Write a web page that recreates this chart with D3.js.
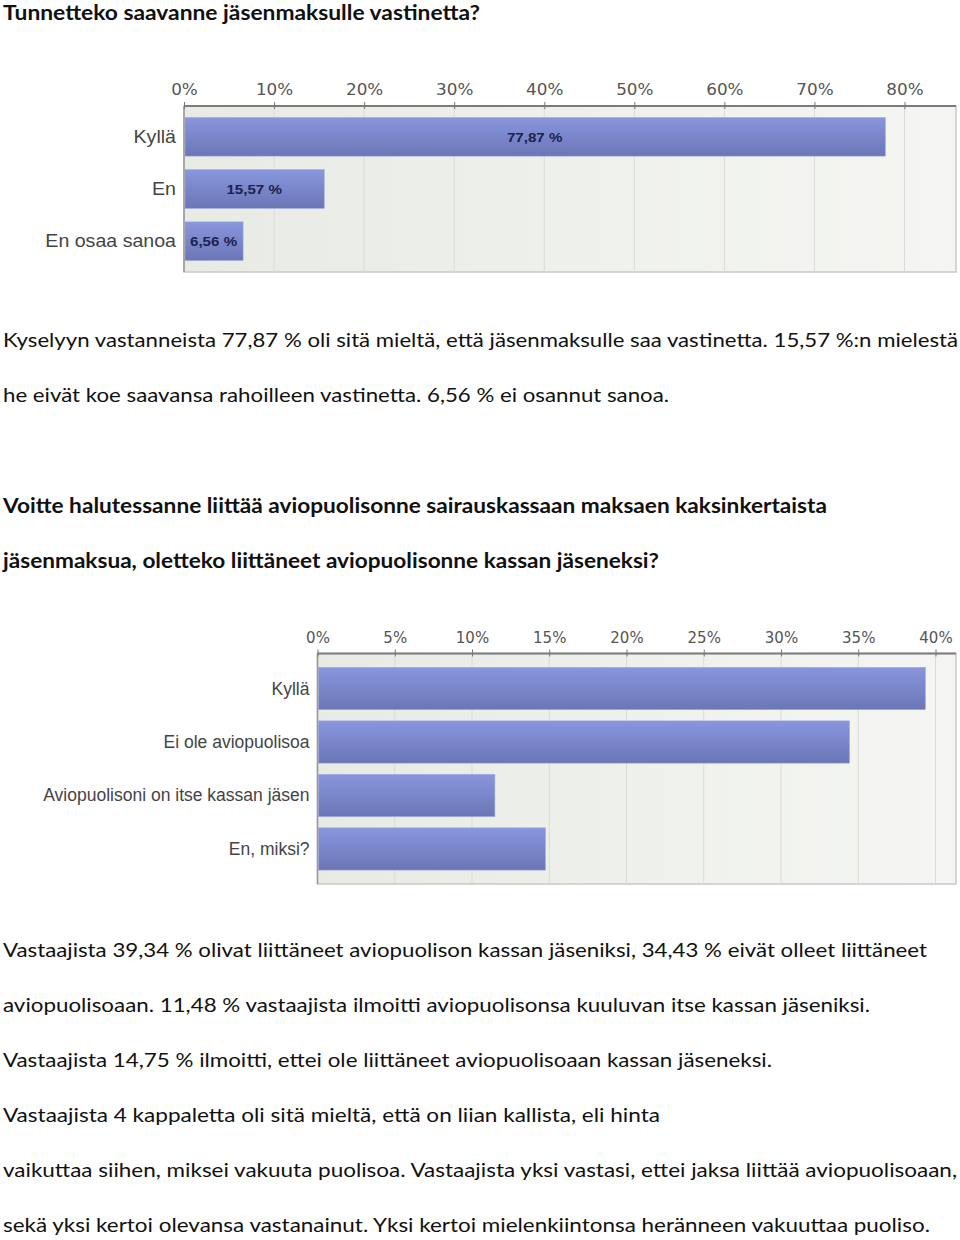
<!DOCTYPE html>
<html><head><meta charset="utf-8">
<script src="https://cdn.jsdelivr.net/npm/d3@7"></script>
<style>
html,body{margin:0;padding:0;background:#fff;}
svg{display:block;}
</style></head>
<body>
<svg id="page" width="960" height="1240"></svg>
<script>
// ---------- data ----------
const q1Title = "Tunnetteko saavanne jäsenmaksulle vastinetta?";
const q1Categories = ["Kyllä", "En", "En osaa sanoa"];
const q1Values = [77.87, 15.57, 6.56];
const q1ValueLabels = ["77,87 %", "15,57 %", "6,56 %"];
const q1Ticks = [0, 10, 20, 30, 40, 50, 60, 70, 80];
const q1Text = [
  "Kyselyyn vastanneista 77,87 % oli sitä mieltä, että jäsenmaksulle saa vastinetta. 15,57 %:n mielestä",
  "he eivät koe saavansa rahoilleen vastinetta. 6,56 % ei osannut sanoa."
];
const q2Title = [
  "Voitte halutessanne liittää aviopuolisonne sairauskassaan maksaen kaksinkertaista",
  "jäsenmaksua, oletteko liittäneet aviopuolisonne kassan jäseneksi?"
];
const q2Categories = ["Kyllä", "Ei ole aviopuolisoa", "Aviopuolisoni on itse kassan jäsen", "En, miksi?"];
const q2Values = [39.34, 34.43, 11.48, 14.75];
const q2Ticks = [0, 5, 10, 15, 20, 25, 30, 35, 40];
const q2Text = [
  "Vastaajista 39,34 % olivat liittäneet aviopuolison kassan jäseniksi, 34,43 % eivät olleet liittäneet",
  "aviopuolisoaan. 11,48 % vastaajista ilmoitti aviopuolisonsa kuuluvan itse kassan jäseniksi.",
  "Vastaajista 14,75 % ilmoitti, ettei ole liittäneet aviopuolisoaan kassan jäseneksi.",
  "Vastaajista 4 kappaletta oli sitä mieltä, että on liian kallista, eli hinta",
  "vaikuttaa siihen, miksei vakuuta puolisoa. Vastaajista yksi vastasi, ettei jaksa liittää aviopuolisoaan,",
  "sekä yksi kertoi olevansa vastanainut. Yksi kertoi mielenkiintonsa heränneen vakuuttaa puoliso."
];

// ---------- layout ----------
const svg = d3.select("#page");
const defs = svg.append("defs");
const barGrad = defs.append("linearGradient").attr("id", "barGrad")
  .attr("x1", 0).attr("y1", 0).attr("x2", 0).attr("y2", 1);
barGrad.append("stop").attr("offset", "0%").attr("stop-color", "#8996de");
barGrad.append("stop").attr("offset", "100%").attr("stop-color", "#6a76b5");
const bgGrad = defs.append("linearGradient").attr("id", "bgGrad")
  .attr("x1", 0).attr("y1", 0).attr("x2", 1).attr("y2", 0);
bgGrad.append("stop").attr("offset", "0%").attr("stop-color", "#e8ebe4");
bgGrad.append("stop").attr("offset", "100%").attr("stop-color", "#f5f6f3");

const bodyFont = "Lato, 'Open Sans', sans-serif";

function textLines(lines, opts) {
  lines.forEach((line, i) => {
    svg.append("text")
      .attr("x", 3)
      .attr("y", opts.y0 + i * opts.dy)
      .attr("font-family", bodyFont)
      .attr("font-size", opts.size)
      .attr("font-weight", opts.bold ? 700 : 400)
      .attr("fill", "#111")
      .attr("textLength", opts.widths[i] - 3)
      .attr("lengthAdjust", "spacingAndGlyphs")
      .text(line);
  });
}

function barChart(cfg) {
  const g = svg.append("g");
  const x = d3.scaleLinear().domain([0, cfg.ticks[cfg.ticks.length - 1]]).range([cfg.left, cfg.xMaxPx]);
  const y = d3.scaleBand().domain(cfg.categories).range([cfg.top, cfg.bottom])
    .paddingInner(cfg.padIn).paddingOuter(cfg.padOut);
  const right = cfg.right;
  // background
  g.append("rect").attr("x", cfg.left).attr("y", cfg.top)
    .attr("width", right - cfg.left).attr("height", cfg.bottom - cfg.top)
    .attr("fill", "url(#bgGrad)").attr("stroke", "#c8c8c8").attr("stroke-width", 1.5);
  // grid
  g.selectAll(".grid").data(cfg.ticks.slice(1)).join("line")
    .attr("x1", d => x(d)).attr("x2", d => x(d))
    .attr("y1", cfg.top).attr("y2", cfg.bottom)
    .attr("stroke", "#d9dcd6").attr("stroke-width", 1);
  // bars
  g.selectAll(".bar").data(cfg.values).join("rect")
    .attr("x", x(0) + 1)
    .attr("y", (d, i) => y(cfg.categories[i]))
    .attr("width", d => x(d) - x(0) - 1)
    .attr("height", y.bandwidth())
    .attr("fill", "url(#barGrad)")
    .attr("stroke", "#9ea8e2").attr("stroke-width", 0.6);
  // left axis line
  g.append("line").attr("x1", cfg.left).attr("x2", cfg.left)
    .attr("y1", cfg.top).attr("y2", cfg.bottom)
    .attr("stroke", "#9a9a9a").attr("stroke-width", 1.5);
  // top axis
  const axis = d3.axisTop(x).tickValues(cfg.ticks).tickSize(4).tickPadding(7)
    .tickFormat(d => d + "%");
  const ag = g.append("g").attr("transform", `translate(0,${cfg.top})`).call(axis);
  ag.select(".domain").attr("d", `M${cfg.left},0H${right}`).attr("stroke", "#7c7c7c").attr("stroke-width", 2);
  ag.selectAll(".tick line").attr("stroke", "#777").attr("y2", -4).attr("y1", 3);
  ag.selectAll(".tick text")
    .attr("font-family", "'DejaVu Sans', Verdana, sans-serif")
    .attr("font-size", 15)
    .attr("fill", "#555")
    .attr("transform", `scale(${cfg.stretch},1)`);
  // category labels
  g.selectAll(".cat").data(cfg.categories).join("text")
    .attr("text-anchor", "end")
    .attr("transform", d => `translate(${cfg.left - 8},${y(d) + y.bandwidth() / 2 + 6}) scale(${cfg.stretch},1)`)
    .attr("font-family", "'Liberation Sans', Arial, sans-serif")
    .attr("font-size", 17.5)
    .attr("fill", "#444")
    .text(d => d);
  // value labels
  if (cfg.valueLabels) {
    g.selectAll(".val").data(cfg.values).join("text")
      .attr("text-anchor", "middle")
      .attr("transform", (d, i) => `translate(${Math.max((x(0) + x(d)) / 2, x(0) + 28)},${y(cfg.categories[i]) + y.bandwidth() / 2 + 5}) scale(${cfg.stretch},1)`)
      .attr("font-family", "'Liberation Sans', Arial, sans-serif")
      .attr("font-size", 13.5)
      .attr("font-weight", 700)
      .attr("fill", "#1d2150")
      .text((d, i) => cfg.valueLabels[i]);
  }
}

// title
svg.append("text").attr("x", 3).attr("y", 20)
  .attr("font-family", bodyFont).attr("font-size", 20).attr("font-weight", 700)
  .attr("fill", "#111").attr("textLength", 477).attr("lengthAdjust", "spacingAndGlyphs")
  .text(q1Title);

barChart({
  categories: q1Categories, values: q1Values, valueLabels: q1ValueLabels, ticks: q1Ticks,
  left: 184, xMaxPx: 904.5, right: 956, top: 106, bottom: 272,
  padIn: 0.26, padOut: 0.22, stretch: 1.12
});

textLines(q1Text, {y0: 347, dy: 55, size: 20, bold: false, widths: [958, 669]});
textLines(q2Title, {y0: 513, dy: 55, size: 20, bold: true, widths: [827, 659]});

barChart({
  categories: q2Categories, values: q2Values, ticks: q2Ticks,
  left: 317.5, xMaxPx: 935.5, right: 956, top: 653.5, bottom: 884,
  padIn: 0.21, padOut: 0.26, stretch: 1.0
});

textLines(q2Text, {y0: 957, dy: 55, size: 20, bold: false, widths: [927, 870, 772, 660, 957, 930]});
</script>
</body></html>
